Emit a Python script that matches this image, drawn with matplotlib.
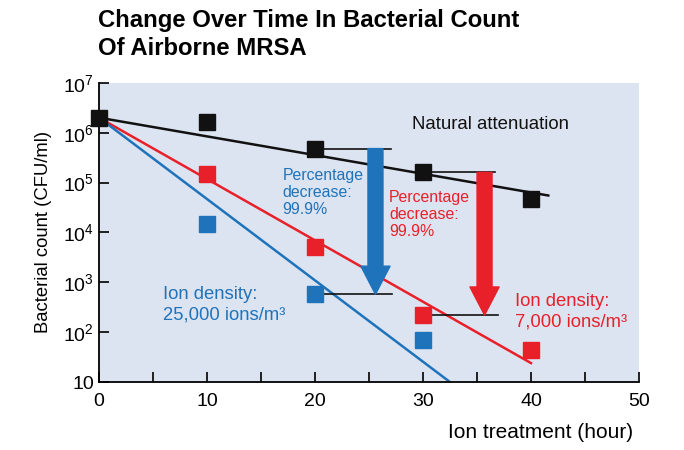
import matplotlib
matplotlib.use('Agg')
from matplotlib import pyplot as plt

plt.rcParams['font.family'] = ['Liberation Sans', 'DejaVu Sans']
plt.rcParams['mathtext.fontset'] = 'custom'
plt.rcParams['mathtext.rm'] = 'Liberation Sans'
plt.rcParams['mathtext.it'] = 'Liberation Sans:italic'
plt.rcParams['mathtext.bf'] = 'Liberation Sans:bold'

BLACK = '#111111'
RED = '#e8202a'
BLUE = '#1f73bb'
BG = '#dde4f1'

# measured points
hours = [0, 10, 20, 30, 40]
natural = [2.0e6, 1.6e6, 4.8e5, 1.6e5, 4.6e4]
hours_ion = [10, 20, 30, 40]
ion_7000 = [1.5e5, 5.2e3, 220, 44]
hours_ion25 = [10, 20, 30]
ion_25000 = [1.45e4, 575, 69]

# fitted lines (end points)
fit_natural_x = [0, 41.6]
fit_natural_y = [2.0e6, 5.5e4]
fit_7000_x = [0, 40]
fit_7000_y = [2.0e6, 24]
fit_25000_x = [0, 32.5]
fit_25000_y = [2.0e6, 10]

y_ticks = [10, 1e2, 1e3, 1e4, 1e5, 1e6, 1e7]
y_labels = ['10', r'$\mathregular{10^{2}}$', r'$\mathregular{10^{3}}$',
            r'$\mathregular{10^{4}}$', r'$\mathregular{10^{5}}$',
            r'$\mathregular{10^{6}}$', r'$\mathregular{10^{7}}$']


def main() -> None:
    fig = plt.figure(figsize=(6.84, 4.5), dpi=100)
    ax = fig.add_axes([0.1447, 0.151, 0.7895, 0.665])
    ax.set_facecolor(BG)
    ax.set_yscale('log')
    ax.set_xlim(0, 50)
    ax.set_ylim(10, 1e7)

    ax.plot(fit_natural_x, fit_natural_y, color=BLACK, lw=1.8, zorder=2)
    ax.plot(fit_7000_x, fit_7000_y, color=RED, lw=1.8, zorder=2)
    ax.plot(fit_25000_x, fit_25000_y, color=BLUE, lw=1.8, zorder=2)

    ms = 11
    ax.plot(hours_ion25, ion_25000, 's', color=BLUE, ms=ms, zorder=4, clip_on=False)
    ax.plot(hours_ion, ion_7000, 's', color=RED, ms=ms, zorder=4, clip_on=False)
    ax.plot(hours, natural, 's', color=BLACK, ms=ms, zorder=5, clip_on=False)

    # reference lines for the decrease arrows
    ax.plot([20.6, 27.0], [natural[2], natural[2]], color=BLACK, lw=1.2, zorder=3)
    ax.plot([20.6, 27.1], [ion_25000[1], ion_25000[1]], color=BLACK, lw=1.2, zorder=3)
    ax.plot([30.5, 36.7], [natural[3], natural[3]], color=BLACK, lw=1.2, zorder=3)
    ax.plot([30.6, 36.9], [ion_7000[2], ion_7000[2]], color=BLACK, lw=1.2, zorder=3)

    style = 'simple,head_width=1.4,head_length=1.35,tail_width=0.72'
    ax.annotate('', xy=(25.6, ion_25000[1]), xytext=(25.6, natural[2]),
                arrowprops=dict(arrowstyle=style, color=BLUE, shrinkA=0, shrinkB=0,
                                mutation_scale=15), zorder=6)
    ax.annotate('', xy=(35.7, ion_7000[2]), xytext=(35.7, natural[3]),
                arrowprops=dict(arrowstyle=style, color=RED, shrinkA=0, shrinkB=0,
                                mutation_scale=15), zorder=6)

    ax.text(29.0, 1.45e6, 'Natural attenuation', fontsize=13.4, color=BLACK, va='center')
    ax.text(17.0, 2.0e5, 'Percentage\ndecrease:\n99.9%', fontsize=11.4, color=BLUE,
            va='top', linespacing=1.2)
    ax.text(26.85, 7.2e4, 'Percentage\ndecrease:\n99.9%', fontsize=11.4, color=RED,
            va='top', linespacing=1.2)
    ax.text(5.9, 8.5e2, 'Ion density:\n25,000 ions/m³', fontsize=13.3, color=BLUE,
            va='top', linespacing=1.3)
    ax.text(38.5, 6.2e2, 'Ion density:\n7,000 ions/m³', fontsize=13.3, color=RED,
            va='top', linespacing=1.3)

    ax.set_yticks(y_ticks)
    ax.set_yticklabels(y_labels)
    ax.yaxis.set_minor_locator(matplotlib.ticker.NullLocator())
    ax.set_xticks([0, 10, 20, 30, 40, 50])
    ax.set_xticks([5, 15, 25, 35, 45], minor=True)
    ax.tick_params(axis='both', which='both', direction='in', length=7, width=1.3,
                   labelsize=14, color=BLACK)
    ax.tick_params(axis='x', pad=8)
    for side in ('top', 'right'):
        ax.spines[side].set_visible(False)
    for side in ('left', 'bottom'):
        ax.spines[side].set_linewidth(1.3)

    ax.set_ylabel('Bacterial count (CFU/ml)', fontsize=13.3, labelpad=8)
    fig.text(0.926, 0.018, 'Ion treatment (hour)', fontsize=15, ha='right', va='bottom')

    fig.text(0.143, 1 - 27 / 450, 'Change Over Time In Bacterial Count',
             fontsize=17.2, fontweight='bold', ha='left', va='baseline')
    fig.text(0.143, 1 - 55 / 450, 'Of Airborne MRSA',
             fontsize=17.2, fontweight='bold', ha='left', va='baseline')

    fig.savefig('out.png', dpi=100)


if __name__ == '__main__':
    main()
